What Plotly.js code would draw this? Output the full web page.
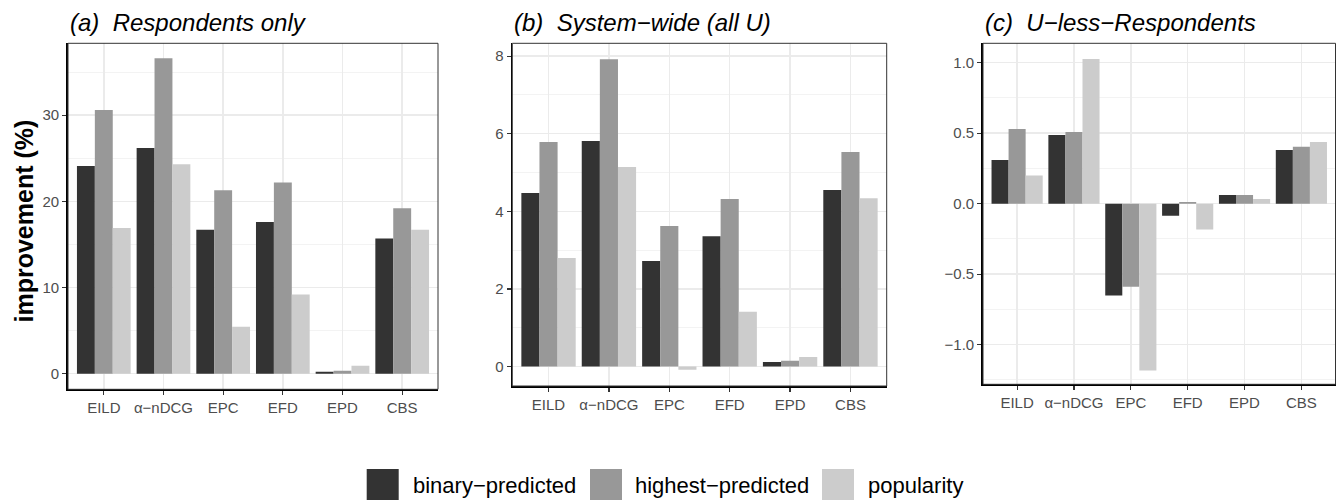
<!DOCTYPE html>
<html><head><meta charset="utf-8">
<script src="https://cdn.plot.ly/plotly-3.0.1.min.js"></script>
<style>html,body{margin:0;padding:0;background:#fff}</style>
</head><body><div id="chart" style="width:1338px;height:500px"></div>
<script>
// ---- data ----
const categories = ['EILD', 'α−nDCG', 'EPC', 'EFD', 'EPD', 'CBS'];
const seriesNames = ['binary−predicted', 'highest−predicted', 'popularity'];
const seriesColors = ['#333333', '#989898', '#CCCCCC'];

const respondentsBinary     = [24.1, 26.2, 16.7, 17.6, 0.23, 15.7];
const respondentsHighest    = [30.6, 36.6, 21.3, 22.2, 0.35, 19.2];
const respondentsPopularity = [16.9, 24.3, 5.45, 9.2, 0.93, 16.7];

const systemBinary     = [4.47, 5.81, 2.72, 3.36, 0.12, 4.55];
const systemHighest    = [5.79, 7.92, 3.62, 4.32, 0.15, 5.53];
const systemPopularity = [2.80, 5.14, -0.08, 1.41, 0.25, 4.34];

const ulessBinary     = [0.31, 0.487, -0.652, -0.085, 0.061, 0.38];
const ulessHighest    = [0.53, 0.508, -0.589, 0.012, 0.061, 0.404];
const ulessPopularity = [0.20, 1.026, -1.184, -0.184, 0.033, 0.437];

const panelTitles = ['(a)\u00A0 Respondents only', '(b)\u00A0 System−wide (all U)', '(c)\u00A0 U−less−Respondents'];
const yAxisTitle = 'improvement (%)';

// ---- layout geometry (pixels) ----
const W = 1338, H = 500;
const px = v => v / W;
const py = v => 1 - v / H;
const panels = [
  {x0: 68, x1: 438, y0: 43.3, y1: 389.3, range: [-1.81, 38.34], dtick: 10, minor: 5, fmt: 'd', series: [respondentsBinary, respondentsHighest, respondentsPopularity]},
  {x0: 512.3, x1: 886.7, y0: 43.3, y1: 386, range: [-0.50, 8.33], dtick: 2, minor: 1, fmt: 'd', series: [systemBinary, systemHighest, systemPopularity]},
  {x0: 983, x1: 1335.5, y0: 43.3, y1: 384.3, range: [-1.281, 1.137], dtick: 0.5, minor: 0.25, fmt: '.1f', series: [ulessBinary, ulessHighest, ulessPopularity]}
];

const FONT = 'Liberation Sans, Arial, Helvetica, sans-serif';
const traces = [];
const layout = {
  width: W, height: H,
  margin: {l: 0, r: 0, t: 0, b: 0},
  paper_bgcolor: '#fff', plot_bgcolor: '#fff',
  font: {family: FONT, color: '#000'},
  barmode: 'group', bargap: 0.1, bargroupgap: 0,
  showlegend: false,
  shapes: [], annotations: []
};

panels.forEach((p, i) => {
  const sfx = i === 0 ? '' : String(i + 1);
  const xa = 'x' + sfx, ya = 'y' + sfx;
  p.series.forEach((vals, s) => {
    traces.push({
      type: 'bar', x: categories, y: vals, name: seriesNames[s],
      xaxis: xa, yaxis: ya, legendgroup: seriesNames[s], showlegend: i === 0,
      marker: {color: seriesColors[s], line: {width: 0}},
      hoverinfo: 'x+y+name'
    });
  });
  layout['xaxis' + sfx] = {
    domain: [px(p.x0), px(p.x1)], anchor: ya, type: 'category',
    range: [-0.6, 5.6], fixedrange: true,
    showgrid: true, gridcolor: '#EBEBEB', gridwidth: 1.4,
    ticks: 'outside', ticklen: 4, tickwidth: 1.2, tickcolor: '#333',
    showline: true, linecolor: '#000', linewidth: 1.8,
    tickfont: {family: FONT, size: 15, color: '#4D4D4D'}, zeroline: false
  };
  layout['yaxis' + sfx] = {
    domain: [py(p.y1), py(p.y0)], anchor: xa, range: p.range, fixedrange: true,
    tick0: 0, dtick: p.dtick, tickformat: p.fmt,
    showgrid: true, gridcolor: '#EBEBEB', gridwidth: 1.4,
    minor: {tick0: 0, dtick: p.minor, showgrid: true, gridcolor: '#F0F0F0', gridwidth: 0.8, ticks: ''},
    ticks: 'outside', ticklen: 4, tickwidth: 1.2, tickcolor: '#333',
    showline: true, linecolor: '#000', linewidth: 1.8,
    tickfont: {family: FONT, size: 15, color: '#4D4D4D'}, zeroline: false
  };
  layout.shapes.push({type: 'rect', xref: xa + ' domain', yref: ya + ' domain', x0: 0, x1: 1, y0: 0, y1: 1,
    line: {color: '#333', width: 1}, fillcolor: 'rgba(0,0,0,0)', layer: 'above'});
  layout.annotations.push({text: panelTitles[i], xref: 'paper', yref: 'paper', x: px(p.x0), y: py(22),
    xanchor: 'left', yanchor: 'middle', showarrow: false,
    font: {family: FONT, size: 24, color: '#000', style: 'italic'}});
});

// y axis title of panel (a)
layout.annotations.push({text: '<b>' + yAxisTitle + '</b>', xref: 'paper', yref: 'paper', x: px(23), y: py(221.5),
  xanchor: 'center', yanchor: 'middle', textangle: -90, showarrow: false,
  font: {family: FONT, size: 25, color: '#000'}});

// legend (drawn as keys + labels)
const legendKeys = [366.7, 590, 822];
const legendTexts = [410.7, 633, 866];
seriesNames.forEach((n, s) => {
  layout.shapes.push({type: 'rect', xref: 'paper', yref: 'paper',
    x0: px(legendKeys[s]), x1: px(legendKeys[s] + 32), y0: py(500), y1: py(469),
    line: {width: 0}, fillcolor: seriesColors[s]});
  layout.annotations.push({text: n, xref: 'paper', yref: 'paper', x: px(legendTexts[s]), y: py(485),
    xanchor: 'left', yanchor: 'middle', showarrow: false,
    font: {family: FONT, size: 22, color: '#000'}});
});

Plotly.newPlot('chart', traces, layout, {displayModeBar: false, staticPlot: true});
</script>
</body></html>
